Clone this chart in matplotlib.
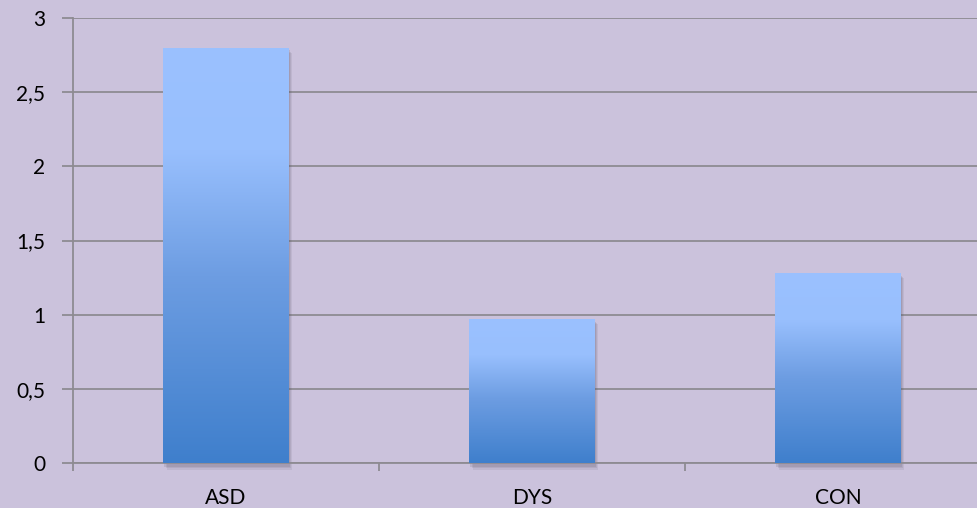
import numpy as np
import matplotlib
matplotlib.use("Agg")
import matplotlib.pyplot as plt
from matplotlib.colors import LinearSegmentedColormap
from matplotlib.ticker import FuncFormatter

# Chart data
categories = ["ASD", "DYS", "CON"]
values = [2.80, 0.97, 1.28]
y_ticks = [0, 0.5, 1, 1.5, 2, 2.5, 3]

bg = "#CBC2DC"
grid_col = "#8E8B92"
bar_width = 0.41

plt.rcParams["font.family"] = ["Lato", "DejaVu Sans"]

fig = plt.figure(figsize=(9.78, 5.08), dpi=100, facecolor=bg)
# the plot area runs slightly past the right edge of the image
ax = fig.add_axes([73 / 978, 1 - 463 / 508, 918 / 978, (463 - 18) / 508])
ax.set_facecolor(bg)

x = np.arange(len(categories))

# gradient fill for the bars: light blue on top, darker blue at the base
cmap = LinearSegmentedColormap.from_list(
    "bar", [(0, "#3F7FCC"), (0.45, "#6D9DE2"), (0.75, "#98BFFD"), (1, "#9BC1FF")])
grad = np.linspace(0, 1, 256).reshape(-1, 1)

for xi, v in zip(x, values):
    left = xi - bar_width / 2
    # soft shadow
    for k, a in [(0.012, 0.10), (0.008, 0.12), (0.004, 0.15)]:
        ax.add_patch(plt.Rectangle((left + k, -0.02 - k * 2), bar_width, v + 0.01,
                                   facecolor="#555060", alpha=a, lw=0, zorder=2, clip_on=False))
    bars = ax.bar(xi, v, width=bar_width, color="none", zorder=3)
    img = ax.imshow(grad, extent=(left, left + bar_width, 0, v), origin="lower",
                    cmap=cmap, aspect="auto", zorder=3, interpolation="bicubic")
    img.set_clip_path(bars[0])

ax.set_xlim(-0.5, len(categories) - 0.5)
ax.set_ylim(0, 3)

ax.set_yticks(y_ticks)
ax.yaxis.set_major_formatter(FuncFormatter(lambda v, p: f"{v:g}".replace(".", ",")))
ax.grid(axis="y", color=grid_col, lw=1.3, zorder=1)
ax.set_axisbelow(True)

ax.set_xticks(x)
ax.set_xticklabels(categories)
ax.set_xticks(np.arange(-0.5, len(categories)), minor=True)
ax.tick_params(axis="x", which="major", length=0, pad=18, labelsize=15)
ax.tick_params(axis="x", which="minor", length=6, width=1.3, color=grid_col)
ax.tick_params(axis="y", length=8, width=1.3, color=grid_col, pad=12, labelsize=15)

for s in ["top", "right"]:
    ax.spines[s].set_visible(False)
for s in ["left", "bottom"]:
    ax.spines[s].set_color(grid_col)
    ax.spines[s].set_linewidth(1.3)

fig.savefig("out.png", dpi=100, facecolor=bg)
